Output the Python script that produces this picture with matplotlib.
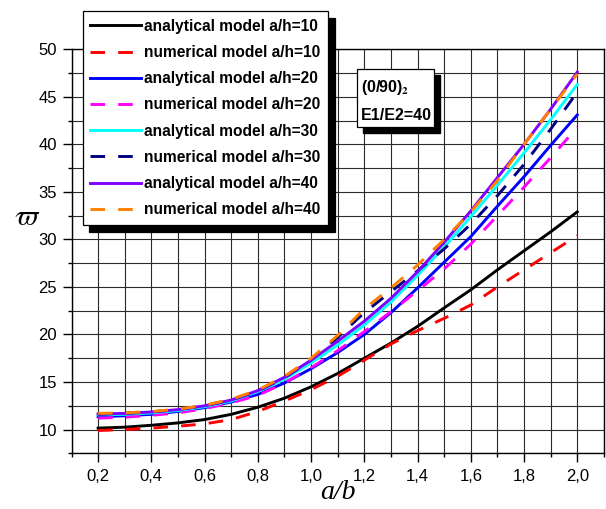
import matplotlib
matplotlib.use("Agg")
import matplotlib.pyplot as plt
from matplotlib.patches import Rectangle
from matplotlib.ticker import MultipleLocator, FuncFormatter

x = [0.2, 0.3, 0.4, 0.5, 0.6, 0.7, 0.8, 0.9, 1.0, 1.1,
     1.2, 1.3, 1.4, 1.5, 1.6, 1.7, 1.8, 1.9, 2.0]

ana_10 = [10.15, 10.25, 10.45, 10.7, 11.05, 11.6, 12.35, 13.3, 14.5, 15.9,
          17.5, 19.1, 20.85, 22.8, 24.7, 26.8, 28.8, 30.8, 32.9]
num_10 = [9.9, 10.0, 10.15, 10.35, 10.6, 11.05, 11.9, 13.0, 14.2, 15.6,
          17.3, 19.0, 20.4, 21.7, 23.1, 25.0, 26.8, 28.6, 30.4]
ana_20 = [11.35, 11.45, 11.6, 11.9, 12.3, 12.9, 13.7, 14.9, 16.4, 18.1,
          20.0, 22.3, 24.9, 27.6, 30.3, 33.5, 36.6, 39.9, 43.1]
num_20 = [11.2, 11.3, 11.5, 11.75, 12.2, 12.8, 13.6, 14.9, 16.5, 18.3,
          20.3, 22.4, 24.6, 26.9, 29.5, 32.5, 35.5, 38.6, 41.8]
ana_30 = [11.55, 11.6, 11.75, 12.0, 12.4, 13.0, 14.0, 15.3, 17.0, 18.9,
          21.0, 23.4, 26.2, 29.2, 32.4, 35.7, 39.1, 42.6, 46.3]
num_30 = [11.6, 11.7, 11.85, 12.1, 12.5, 13.1, 14.05, 15.45, 17.3, 19.7,
          22.3, 24.5, 26.7, 29.0, 31.6, 34.6, 37.9, 41.6, 45.5]
ana_40 = [11.65, 11.7, 11.85, 12.1, 12.5, 13.1, 14.1, 15.5, 17.3, 19.3,
          21.4, 23.8, 26.6, 29.7, 33.0, 36.5, 40.0, 43.7, 47.6]
num_40 = [11.7, 11.75, 11.9, 12.15, 12.55, 13.2, 14.15, 15.6, 17.5, 19.9,
          22.7, 24.9, 27.3, 30.0, 32.9, 36.2, 40.0, 43.7, 47.4]

series = [
    ("analytical model a/h=10", ana_10, "black", "-"),
    ("numerical model a/h=10", num_10, "red", "--"),
    ("analytical model a/h=20", ana_20, "#0000ff", "-"),
    ("numerical model a/h=20", num_20, "#ff00ff", "--"),
    ("analytical model a/h=30", ana_30, "#00ffff", "-"),
    ("numerical model a/h=30", num_30, "#000080", "--"),
    ("analytical model a/h=40", ana_40, "#8000ff", "-"),
    ("numerical model a/h=40", num_40, "#ff8000", "--"),
]

plt.rcParams['font.family'] = ['Liberation Sans', 'DejaVu Sans']
plt.rcParams['mathtext.fontset'] = 'stix'

fig = plt.figure(figsize=(6.06, 5.09), dpi=100)
ax = fig.add_axes([0.118, 0.1094, 0.8785, 0.7937])

for label, vals, color, ls in series:
    if ls == "--":
        ax.plot(x, vals, color=color, lw=2.1, linestyle=(0, (5, 4.5)), label=label, zorder=3)
    else:
        ax.plot(x, vals, color=color, lw=2.1, linestyle='-', label=label, zorder=3)

ax.set_xlim(0.1, 2.1)
ax.set_ylim(7.5, 50)
ax.xaxis.set_major_locator(MultipleLocator(0.2))
ax.xaxis.set_minor_locator(MultipleLocator(0.1))
ax.yaxis.set_major_locator(MultipleLocator(5))
ax.yaxis.set_minor_locator(MultipleLocator(2.5))
ax.xaxis.set_major_formatter(FuncFormatter(lambda v, p: f"{v:.1f}".replace('.', ',')))
ax.yaxis.set_major_formatter(FuncFormatter(lambda v, p: f"{v:.0f}"))
ax.grid(True, which='both', color='#2a2a2a', lw=0.8, zorder=0)
ax.set_axisbelow(True)
ax.tick_params(which='major', direction='out', length=6.5, width=1, labelsize=12, color='black')
ax.tick_params(which='minor', direction='out', length=3, width=1, color='black')
ax.tick_params(axis='x', which='major', pad=5)
ax.tick_params(axis='y', which='major', pad=4)
for s in ax.spines.values():
    s.set_linewidth(1.0)
    s.set_color('black')

ax.set_xlabel('a/b', family='Liberation Serif', style='italic', fontsize=20)
ax.xaxis.label.set_va('center')
ax.xaxis.set_label_coords(0.5, -0.098)
ax.set_ylabel(r'$\varpi$', fontsize=21, rotation=0)
ax.yaxis.label.set_va('center')
ax.yaxis.set_label_coords(-0.084, 0.585)

leg = ax.legend(loc='upper left', bbox_to_anchor=(0.0207, 1.0948), borderaxespad=0,
                prop={'weight': 'bold', 'size': 11.2}, handlelength=3.25, handletextpad=0.2,
                labelspacing=0.72, borderpad=0.5, fancybox=False, framealpha=1,
                edgecolor='black',
                shadow={'color': 'black', 'alpha': 1, 'ox': 5, 'oy': -5})
leg.get_frame().set_linewidth(0.9)
leg.set_zorder(10)

# annotation box with shadow
bx0, by0, bw, bh = 0.536, 0.808, 0.145, 0.143
sh = Rectangle((bx0 + 0.011, by0 - 0.015), bw, bh, transform=ax.transAxes,
               facecolor='black', edgecolor='black', clip_on=False, zorder=8)
bx = Rectangle((bx0, by0), bw, bh, transform=ax.transAxes,
               facecolor='white', edgecolor='black', lw=0.9, clip_on=False, zorder=9)
ax.add_patch(sh)
ax.add_patch(bx)
ax.text(bx0 + 0.008, 0.906, r'(0/90)$_{\mathbf{2}}$', transform=ax.transAxes,
        fontsize=11.5, fontweight='bold', va='center', ha='left', zorder=11)
ax.text(bx0 + 0.008, 0.837, 'E1/E2=40', transform=ax.transAxes,
        fontsize=11.5, fontweight='bold', va='center', ha='left', zorder=11)

fig.savefig('out.png', dpi=100)
